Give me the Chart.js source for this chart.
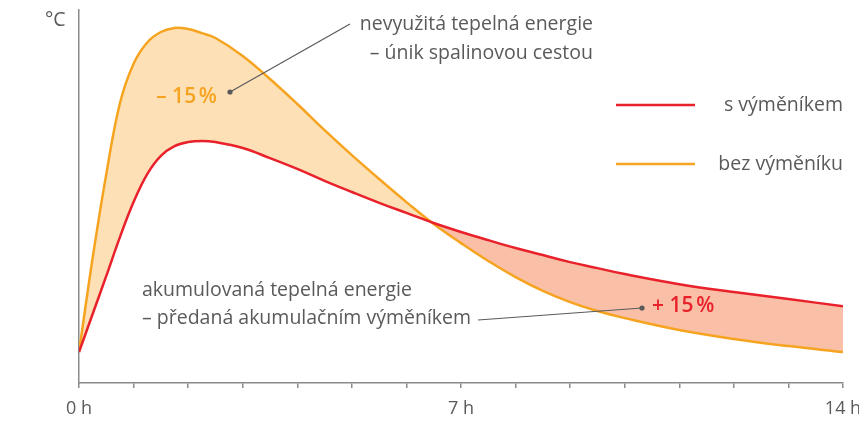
<!DOCTYPE html>
<html lang="cs">
<head>
<meta charset="utf-8">
<script src="https://cdn.jsdelivr.net/npm/chart.js@4/dist/chart.umd.min.js"></script>
<style>
  html, body { margin: 0; padding: 0; background: #fff; }
  #wrap { width: 859px; height: 421px; position: relative; }
</style>
</head>
<body>
<div id="wrap"><canvas id="graf" width="859" height="421"></canvas></div>
<script>
// hodiny (osa x)
const hodiny = [0, 0.25, 0.5, 0.75, 1, 1.25, 1.5, 1.75, 2, 2.25, 2.5, 3, 3.5, 4, 4.5, 5, 5.5, 6, 6.5, 7, 7.5, 8, 8.5, 9, 9.5, 10, 11, 12, 13, 14];
// teplota s výměníkem (relativní jednotky)
const sVymenikem = [8.3, 18.5, 28.7, 39.1, 48.5, 56.0, 60.9, 63.5, 64.6, 64.9, 64.6, 63.0, 60.3, 57.4, 54.2, 51.2, 48.3, 45.6, 42.9, 40.5, 38.3, 36.2, 34.3, 32.4, 30.8, 29.2, 26.5, 24.4, 22.5, 20.6];
// teplota bez výměníku
const bezVymeniku = [8.3, 33.5, 56.0, 75.0, 85.6, 91.3, 94.1, 95.2, 94.9, 93.8, 92.5, 87.7, 81.5, 74.8, 67.8, 61.1, 54.7, 48.5, 42.6, 37.5, 32.7, 28.4, 24.7, 21.7, 19.3, 17.4, 14.2, 11.8, 9.9, 8.3];
const popiskyX = { 0: '0 h', 7: '7 h', 14: '14 h' };
const nazvySerii = ['s výměníkem', 'bez výměníku'];
const textNahore = ['nevyužitá tepelná energie', '– únik spalinovou cestou'];
const textDole = ['akumulovaná tepelná energie', '– předaná akumulačním výměníkem'];
const procenta = ['– 15\u202F%', '+ 15\u202F%'];

const CERVENA = '#E8212B';
const ORANZOVA = '#F6A420';
const SEDA = '#5a5a5a';
const FONT = '"Open Sans", sans-serif';

const body = (xs, ys) => xs.map((x, i) => ({ x, y: ys[i] }));

const popisky = {
  id: 'popisky',
  afterDraw(chart) {
    const c = chart.ctx;
    c.save();
    c.fillStyle = SEDA;
    c.font = '19.5px ' + FONT;
    c.textBaseline = 'middle';
    // °C
    c.textAlign = 'left';
    c.fillText('°C', 45, 20);
    // horní popis
    c.textAlign = 'right';
    c.fillText(textNahore[0], 593, 24);
    c.fillText(textNahore[1], 593, 53);
    // spodní popis
    c.textAlign = 'left';
    c.fillText(textDole[0], 142, 290);
    c.fillText(textDole[1], 142, 318);
    // legenda
    const ds = chart.data.datasets;
    [105, 164].forEach((y, i) => {
      c.strokeStyle = ds[i].borderColor;
      c.lineWidth = 2.5;
      c.beginPath(); c.moveTo(616, y); c.lineTo(695, y); c.stroke();
      c.fillStyle = SEDA;
      c.textAlign = 'right';
      c.fillText(nazvySerii[i], 843, y);
    });
    // vodicí čáry
    c.strokeStyle = SEDA;
    c.lineWidth = 1.2;
    c.beginPath(); c.moveTo(350, 24); c.lineTo(230, 92); c.stroke();
    c.beginPath(); c.moveTo(478, 320); c.lineTo(642, 308); c.stroke();
    c.fillStyle = SEDA;
    [[230, 92], [642, 308]].forEach(([x, y]) => { c.beginPath(); c.arc(x, y, 2.6, 0, Math.PI * 2); c.fill(); });
    // procenta
    c.font = '600 21px ' + FONT;
    c.textAlign = 'right';
    c.fillStyle = ORANZOVA;
    c.fillText(procenta[0], 217, 97);
    c.textAlign = 'left';
    c.fillStyle = CERVENA;
    c.fillText(procenta[1], 652, 306);
    c.restore();
  }
};

new Chart(document.getElementById('graf'), {
  type: 'line',
  data: {
    datasets: [
      { label: nazvySerii[0], data: body(hodiny, sVymenikem), borderColor: CERVENA, borderWidth: 2.5,
        pointRadius: 0, tension: 0.4, fill: false },
      { label: nazvySerii[1], data: body(hodiny, bezVymeniku), borderColor: ORANZOVA, borderWidth: 2.5,
        pointRadius: 0, tension: 0.4,
        fill: { target: 0, above: '#FDE0B6', below: '#F9BFA7' } }
    ]
  },
  options: {
    responsive: false,
    animation: false,
    layout: { padding: { left: 79, right: 16, top: 10, bottom: 0 } },
    plugins: { legend: { display: false }, tooltip: { enabled: false } },
    scales: {
      x: {
        type: 'linear', min: 0, max: 14,
        afterFit: s => { s.height = 38; s.paddingLeft = 0; s.paddingRight = 0; },
        border: { display: true, color: '#8a8a8a', width: 1.5 },
        grid: { display: true, drawOnChartArea: false, drawTicks: true, tickLength: 5, color: '#8a8a8a', lineWidth: 1.5 },
        ticks: {
          stepSize: 1, autoSkip: false, maxRotation: 0, padding: 10,
          color: SEDA, font: { family: FONT, size: 18 },
          callback: v => popiskyX[v] || ''
        }
      },
      y: {
        min: 0, max: 100,
        afterFit: s => { s.width = 0; },
        border: { display: true, color: '#8a8a8a', width: 1.5 },
        grid: { display: false },
        ticks: { display: false }
      }
    }
  },
  plugins: [popisky]
});
</script>
</body>
</html>
